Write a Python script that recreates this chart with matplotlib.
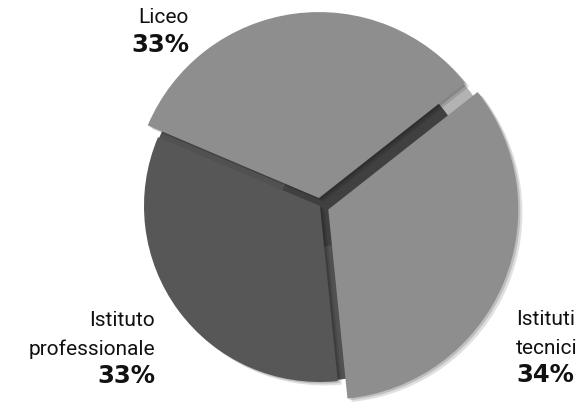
import matplotlib
matplotlib.use('Agg')
import matplotlib.pyplot as plt
import matplotlib.patheffects as pe
from matplotlib.patches import Wedge

# data
categories = ['Liceo', 'Istituti tecnici', 'Istituto professionale']
shares = [33, 34, 33]
label_lines = [['Liceo'], ['Istituti', 'tecnici'], ['Istituto', 'professionale']]
colors = ['#8e8e8e', '#8e8e8e', '#575757']

fig = plt.figure(figsize=(5.87, 4.14), dpi=100)
ax = fig.add_axes([0, 0, 1, 1])

cx, cy = 320, 207
R = 186
start = 157

wedges, _ = ax.pie(shares, colors=colors, startangle=start, counterclock=False,
                   radius=R, center=(cx, cy), explode=[8, 9, 0])
wedges[1].set_radius(190)
wedges[2].set_radius(176)

shadow = [pe.SimplePatchShadow(offset=(3, -2.5), shadow_rgbFace='k', alpha=0.12),
          pe.SimplePatchShadow(offset=(1.5, -1.2), shadow_rgbFace='k', alpha=0.15),
          pe.Normal()]
for w in wedges:
    w.set_path_effects(shadow)
    w.set_zorder(2)

# boundaries between slices (from the data)
total = sum(shares)
b = [start]
for s in shares:
    b.append(b[-1] - 360 * s / total)

# dark "side" visible in the gaps
for ang in (b[0], b[2]):
    ax.add_patch(Wedge((cx, cy), 174, ang - 12, ang + 12, color='#515151', zorder=1))
ax.add_patch(Wedge((cx, cy), 188, b[1] - 12, b[1] + 12, width=32, color='#b3b3b3', zorder=1.2))
ax.add_patch(Wedge((cx, cy), 156, b[1] - 12, b[1] + 12, color='#404040', zorder=1.3))
ax.add_patch(Wedge((cx, cy), 40, 0, 360, color='#404040', zorder=1.3))

# labels
label_pos = [(189, 391, 'right'), (516, 89, 'left'), (155, 88, 'right')]
for (x, y, ha), lines, s in zip(label_pos, label_lines, shares):
    yy = y
    for line in lines:
        ax.text(x, yy, line, ha=ha, va='baseline', fontsize=15, family='Roboto', color='#111111')
        yy -= 29
    ax.text(x, yy + (1 if len(lines) > 1 else 0), f'{s}%', ha=ha, va='baseline', fontsize=17.5,
            weight='bold', family='DejaVu Sans', color='#111111')

ax.set_xlim(0, 587)
ax.set_ylim(0, 414)
ax.set_aspect('auto')
ax.axis('off')

fig.savefig('out.png', dpi=100)
